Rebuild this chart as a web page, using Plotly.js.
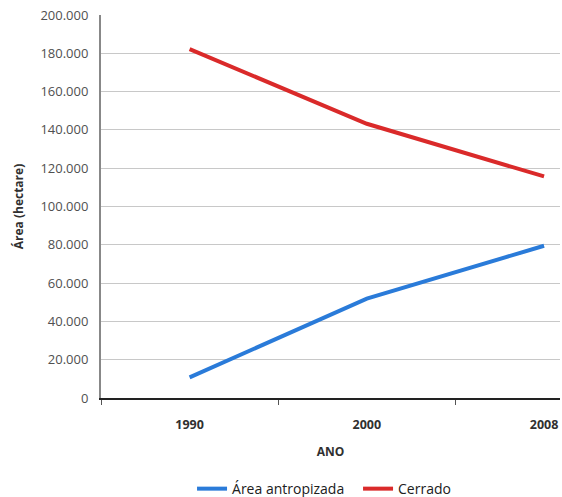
<!DOCTYPE html>
<html>
<head>
<meta charset="utf-8">
<script src="https://cdn.plot.ly/plotly-3.0.1.min.js"></script>
<style>
  html, body { margin: 0; padding: 0; background: #ffffff; }
  #chart { width: 562px; height: 497px; }
</style>
</head>
<body>
<div id="chart"></div>
<script>
// Área (hectare) por ano
const anos = ['1990', '2000', '2008'];
const areaAntropizada = [10800, 51900, 79500];
const cerrado = [182200, 143200, 115700];
const yTicks = [0, 20000, 40000, 60000, 80000, 100000, 120000, 140000, 160000, 180000, 200000];

const fontFamily = '"Open Sans", "Noto Sans", sans-serif';

const traces = [
  {
    x: anos, y: areaAntropizada, name: 'Área antropizada',
    type: 'scatter', mode: 'lines',
    line: { color: '#2a7bd9', width: 4, shape: 'linear' }
  },
  {
    x: anos, y: cerrado, name: 'Cerrado',
    type: 'scatter', mode: 'lines',
    line: { color: '#da2a2a', width: 4, shape: 'linear' }
  }
];

const layout = {
  width: 562, height: 497,
  margin: { l: 101, r: 2, t: 15, b: 99, autoexpand: false },
  paper_bgcolor: '#ffffff', plot_bgcolor: '#ffffff',
  separators: ',.',
  font: { family: fontFamily, size: 12, color: '#404040' },
  showlegend: true,
  legend: {
    orientation: 'h', x: 0.56, xanchor: 'center',
    yref: 'container', y: 0.016, yanchor: 'middle',
    font: { family: fontFamily, size: 14, color: '#202020' },
    itemwidth: 30, entrywidth: 121, tracegroupgap: 0
  },
  xaxis: {
    type: 'category',
    range: [-0.5, 2.09],
    tickson: 'boundaries',
    ticks: 'outside', ticklen: 5, tickcolor: '#555555', tickwidth: 1,
    ticklabelstandoff: 14,
    showline: true, linecolor: '#222222', linewidth: 2,
    showgrid: false, zeroline: false,
    tickfont: { family: fontFamily, size: 12.5, color: '#303030', weight: 'bold' },
    title: { text: 'ANO', standoff: 16, font: { family: fontFamily, size: 12, color: '#303030', weight: 'bold' } }
  },
  yaxis: {
    range: [0, 200000],
    tickvals: yTicks,
    tickformat: ',d',
    ticks: '', ticklabelstandoff: 8,
    showline: true, linecolor: '#888888', linewidth: 2,
    showgrid: true, gridcolor: '#c8c8c8', gridwidth: 1,
    zeroline: false,
    tickfont: { family: fontFamily, size: 13, color: '#505050' },
    title: { text: 'Área (hectare)', standoff: 14, font: { family: fontFamily, size: 12, color: '#303030', weight: 'bold' } }
  }
};

Plotly.newPlot('chart', traces, layout, { staticPlot: true, displayModeBar: false });
</script>
</body>
</html>
